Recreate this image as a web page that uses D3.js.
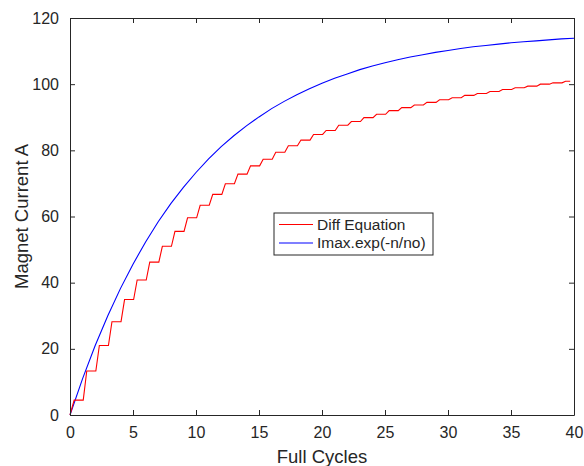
<!DOCTYPE html>
<html>
<head>
<meta charset="utf-8">
<script src="https://cdn.jsdelivr.net/npm/d3@7"></script>
<style>
  body { margin: 0; background: #fff; }
  text { font-family: "Liberation Sans", Arial, sans-serif; fill: #262626; }
</style>
</head>
<body>
<script>
var w = 584;
var h = 466;
var margin = {left: 70, right: 10, top: 18, bottom: 51};

// step level of the difference equation reached in each full cycle k = 0..39
var diffLevels = [4.5, 13.3, 21.0, 28.2, 34.9, 40.8, 46.2, 51.0, 55.5, 59.6,
  63.4, 66.7, 69.9, 72.8, 75.3, 77.3, 79.4, 81.4, 83.1, 84.8,
  86.0, 87.6, 88.7, 89.9, 90.9, 92.0, 92.9, 93.7, 94.5, 95.3,
  95.9, 96.6, 97.2, 97.8, 98.4, 98.9, 99.4, 100.0, 100.4, 100.9];
var diffEnd = 39.7;

// Imax.exp(-n/no) curve, read at every full cycle n = 0..40
var expCycles = d3.range(0, 41);
var expValues = [0, 11.0, 21.0, 30.0, 38.2, 45.6, 52.3, 58.4, 63.9, 68.8,
  73.3, 77.4, 81.1, 84.4, 87.4, 90.1, 92.6, 94.8, 96.8, 98.6,
  100.3, 101.8, 103.1, 104.4, 105.5, 106.5, 107.4, 108.2, 108.9, 109.6,
  110.2, 110.8, 111.3, 111.7, 112.1, 112.5, 112.8, 113.1, 113.4, 113.7, 113.9];

var xTicks = [0, 5, 10, 15, 20, 25, 30, 35, 40];
var yTicks = [0, 20, 40, 60, 80, 100, 120];
var legendNames = ["Diff Equation", "Imax.exp(-n/no)"];
var colors = ["#ff0000", "#0000ff"];

var svg = d3.select("body").append("svg")
  .attr("width", w)
  .attr("height", h);

var x = d3.scaleLinear().domain([0, 40]).range([margin.left, w - margin.right]);
var y = d3.scaleLinear().domain([0, 120]).range([h - margin.bottom, margin.top]);

// staircase points: each cycle rises during the first part, then stays flat
var diffPts = [[0, 0]];
diffLevels.forEach(function(v, k){
  var prev = k == 0 ? 0 : diffLevels[k-1];
  diffPts.push([k + 0.05, prev]);
  diffPts.push([k + 0.33, v]);
});
diffPts.push([diffEnd, diffLevels[diffLevels.length-1]]);
diffPts[1][0] = 0;

var expPts = expCycles.map(function(n, i){ return [n, expValues[i]]; });

var line = d3.line()
  .x(function(d){ return x(d[0]); })
  .y(function(d){ return y(d[1]); });

svg.append("path")
  .attr("d", line(expPts))
  .attr("fill", "none")
  .attr("stroke", colors[1])
  .attr("stroke-width", 1.1);

svg.append("path")
  .attr("d", line(diffPts))
  .attr("fill", "none")
  .attr("stroke", colors[0])
  .attr("stroke-width", 1.1);

// axes, MATLAB style box with ticks on all four sides
var axisColor = "#262626";
function styleAxis(g){
  g.select(".domain").attr("stroke", axisColor).attr("stroke-width", 1);
  g.selectAll(".tick line").attr("stroke", axisColor);
  g.selectAll(".tick text").attr("fill", axisColor)
    .style("font-family", "'Liberation Sans', Arial, sans-serif")
    .style("font-size", "16px");
}

svg.append("g")
  .attr("transform", "translate(0," + y(0) + ")")
  .call(d3.axisBottom(x).tickValues(xTicks).tickSizeInner(-5).tickSizeOuter(0).tickPadding(12))
  .call(styleAxis);

svg.append("g")
  .attr("transform", "translate(0," + y(120) + ")")
  .call(d3.axisTop(x).tickValues(xTicks).tickSizeInner(-5).tickSizeOuter(0).tickFormat(""))
  .call(styleAxis);

svg.append("g")
  .attr("transform", "translate(" + x(0) + ",0)")
  .call(d3.axisLeft(y).tickValues(yTicks).tickSizeInner(-5).tickSizeOuter(0).tickPadding(11))
  .call(styleAxis);

svg.append("g")
  .attr("transform", "translate(" + x(40) + ",0)")
  .call(d3.axisRight(y).tickValues(yTicks).tickSizeInner(-5).tickSizeOuter(0).tickFormat(""))
  .call(styleAxis);

svg.append("text")
  .attr("x", (x(0) + x(40)) / 2)
  .attr("y", y(0) + 48)
  .attr("text-anchor", "middle")
  .style("font-size", "18.5px")
  .text("Full Cycles");

svg.append("text")
  .attr("transform", "translate(" + 28 + "," + (y(0) + y(120)) / 2 + ") rotate(-90)")
  .attr("text-anchor", "middle")
  .style("font-size", "18.5px")
  .text("Magnet Current A");

// legend
var lg = svg.append("g").attr("transform", "translate(274,213)");
lg.append("rect")
  .attr("width", 159)
  .attr("height", 42)
  .attr("fill", "#fff")
  .attr("stroke", axisColor)
  .attr("stroke-width", 1);

var rows = lg.selectAll(".row")
  .data(legendNames)
  .join("g")
  .attr("class", "row")
  .attr("transform", function(d, i){ return "translate(0," + (11.5 + i * 18.5) + ")"; });

rows.append("line")
  .attr("x1", 5)
  .attr("x2", 39)
  .attr("stroke", function(d, i){ return colors[i]; })
  .attr("stroke-width", 1.1);

rows.append("text")
  .attr("x", 43)
  .attr("dy", "0.35em")
  .style("font-size", "15.5px")
  .text(function(d){ return d; });
</script>
</body>
</html>
